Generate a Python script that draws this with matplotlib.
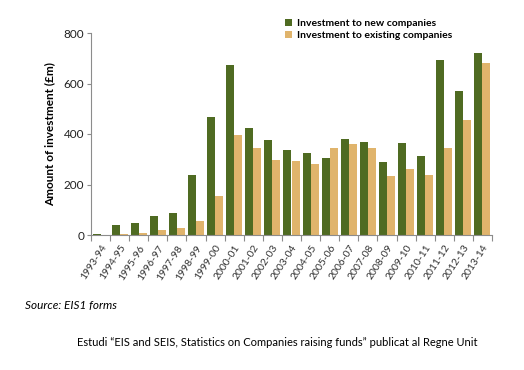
import numpy as np
import matplotlib
matplotlib.use("Agg")
import matplotlib.pyplot as plt

plt.rcParams['font.family'] = ['Lato', 'DejaVu Sans']

years = ['1993-94', '1994-95', '1995-96', '1996-97', '1997-98', '1998-99', '1999-00',
         '2000-01', '2001-02', '2002-03', '2003-04', '2004-05', '2005-06', '2006-07',
         '2007-08', '2008-09', '2009-10', '2010-11', '2011-12', '2012-13', '2013-14']
new_cos = [4, 38, 48, 74, 86, 239, 466, 674, 422, 375, 336, 326, 306, 379, 367,
           289, 365, 313, 694, 572, 719]
existing_cos = [1, 2, 9, 21, 28, 57, 153, 398, 343, 297, 292, 282, 343, 359, 343,
                233, 260, 239, 343, 456, 680]

green = '#4f6b22'
tan = '#e0b46c'
grey = '#8c8c8c'

fig = plt.figure(figsize=(5.24, 3.70), dpi=100)
ax = fig.add_axes([91/524, 135/370, 401/524, 202/370])

x = np.arange(len(years))
w = 0.42
ax.bar(x - w/2, new_cos, w, color=green, label='Investment to new companies')
ax.bar(x + w/2, existing_cos, w, color=tan, label='Investment to existing companies')

ax.set_xlim(-0.5, len(years) - 0.5)
ax.set_ylim(0, 800)
ax.set_yticks([0, 200, 400, 600, 800])
ax.tick_params(axis='y', labelsize=8.5, length=3, color=grey, labelcolor='#222222', pad=2)

# ticks between the categories, labels at the centres
ax.set_xticks(np.arange(len(years) + 1) - 0.5)
ax.set_xticklabels([])
ax.set_xticks(x, minor=True)
ax.set_xticklabels(years, minor=True, rotation=57, ha='right', rotation_mode='anchor',
                   fontsize=7.5, color='#333333')
ax.tick_params(axis='x', which='major', length=4, color=grey)
ax.tick_params(axis='x', which='minor', length=0, pad=6)

for s in ['top', 'right']:
    ax.spines[s].set_visible(False)
for s in ['left', 'bottom']:
    ax.spines[s].set_color(grey)

ax.set_ylabel('Amount of investment (£m)', fontsize=8.5, fontweight='bold', labelpad=6)

leg = ax.legend(loc='upper left', bbox_to_anchor=(190/401, 1.09), frameon=False,
                fontsize=7.5, handlelength=0.7, handleheight=0.7, handletextpad=0.4,
                labelspacing=0.25, borderaxespad=0)
for t in leg.get_texts():
    t.set_fontweight('bold')

fig.text(25/524, 1 - 305/370, 'Source: EIS1 forms', fontsize=8.5, style='italic',
         va='center')
fig.text(77/524, 1 - 343/370,
         'Estudi \u201cEIS and SEIS, Statistics on Companies raising funds\u201d publicat al Regne Unit',
         fontsize=8, va='center')

fig.savefig('out.png', dpi=100)
